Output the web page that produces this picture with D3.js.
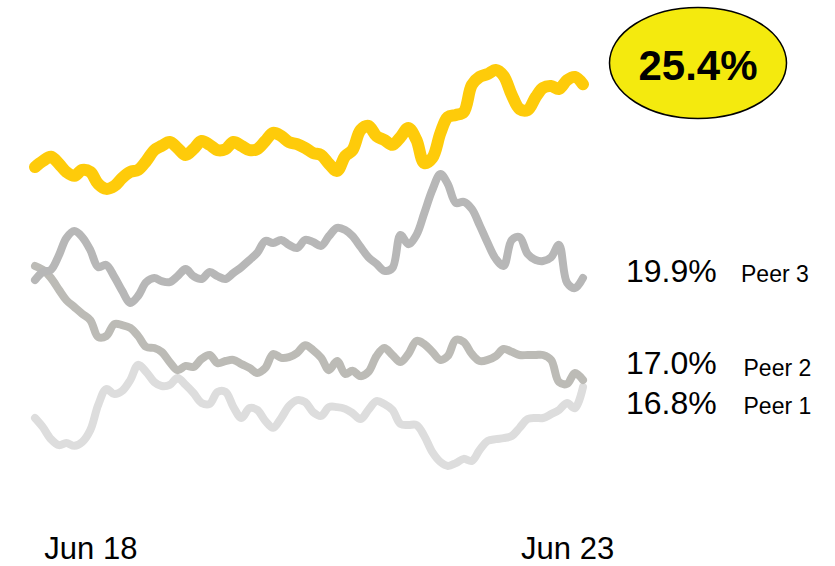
<!DOCTYPE html>
<html>
<head>
<meta charset="utf-8">
<script src="https://cdn.jsdelivr.net/npm/d3@7"></script>
<style>
  html, body { margin: 0; padding: 0; background: #fff; }
  svg { display: block; font-family: "Liberation Sans", Arial, sans-serif; }
</style>
</head>
<body>
<svg id="chart" width="835" height="566"></svg>
<script>
// Monthly observations, Nov 2017 – Aug 2023
const startMonth = new Date(2017, 10, 1);
const company = [23.05,23.22,23.34,23.14,22.91,22.80,22.97,22.91,22.57,22.43,22.51,22.74,22.91,22.97,23.22,23.53,23.65,23.76,23.59,23.39,23.56,23.79,23.68,23.53,23.56,23.76,23.65,23.53,23.56,23.79,24.02,23.93,23.76,23.70,23.59,23.45,23.39,23.14,22.94,23.36,23.53,24.10,24.22,23.93,23.82,23.68,23.90,24.16,23.82,23.16,23.31,24.02,24.47,24.53,24.61,25.38,25.61,25.69,25.81,25.64,25.10,24.70,24.67,25.04,25.30,25.35,25.27,25.52,25.61,25.40];
const peer3 = [19.84,20.07,20.13,20.55,21.03,21.23,21.06,20.69,20.21,20.27,19.93,19.53,19.19,19.39,19.78,19.90,19.81,19.78,19.95,20.15,19.95,19.87,20.07,19.95,19.87,20.04,20.21,20.41,20.61,20.95,20.89,20.98,20.84,20.75,20.98,20.92,20.81,21.09,21.32,21.26,21.09,20.78,20.49,20.30,20.10,20.18,21.12,20.86,21.12,21.74,22.40,22.85,22.57,22.03,22.06,21.86,21.40,20.89,20.44,20.24,20.98,21.06,20.58,20.41,20.38,20.49,20.84,19.76,19.61,19.90];
const peer2 = [20.24,20.13,19.90,19.56,19.27,19.07,18.88,18.70,18.22,18.25,18.59,18.56,18.48,18.25,17.94,17.91,17.80,17.51,17.28,17.40,17.37,17.60,17.71,17.48,17.54,17.57,17.45,17.34,17.20,17.34,17.74,17.63,17.65,17.77,17.99,17.85,17.63,17.28,17.54,17.17,17.26,17.11,17.23,17.68,17.91,17.71,17.51,17.74,18.11,18.02,17.80,17.57,17.68,18.14,18.08,17.74,17.54,17.57,17.68,17.88,17.80,17.71,17.71,17.71,17.71,17.57,16.94,16.89,17.20,17.00];
const peer1 = [15.92,15.66,15.32,15.15,15.21,15.13,15.24,15.58,16.29,16.74,16.60,16.69,17.00,17.43,17.23,16.94,16.83,16.86,17.06,16.86,16.63,16.35,16.32,16.66,16.66,16.23,15.92,16.20,16.15,15.84,15.64,15.92,16.26,16.43,16.37,16.09,15.98,16.23,16.23,16.18,16.06,15.89,16.15,16.40,16.32,16.15,15.75,15.72,15.72,15.41,14.95,14.67,14.56,14.64,14.76,14.70,15.01,15.27,15.32,15.35,15.41,15.64,15.89,15.92,15.92,16.03,16.15,16.35,16.20,16.80];

const tickDates = [new Date(2018, 5, 1), new Date(2023, 5, 1)];
const peerNames = ["Peer 3", "Peer 2", "Peer 1"];
const peerLabels = ["19.9%", "17.0%", "16.8%"];
const companyLabel = "25.4%";

const dates = company.map((_, i) => d3.timeMonth.offset(startMonth, i));

const svg = d3.select("#chart");

const x = d3.scaleTime()
  .domain([dates[0], dates[dates.length - 1]])
  .range([35, 583]);
const y = d3.scaleLinear()
  .domain([16, 26])
  .range([415.2, 63.2]);

const line = d3.line()
  .x((d, i) => x(dates[i]))
  .y(d => y(d))
  .curve(d3.curveCatmullRom.alpha(0.5));

const series = [
  { values: peer1, color: "#dddddd", width: 8 },
  { values: peer2, color: "#bcbbb6", width: 8 },
  { values: peer3, color: "#b7b7b7", width: 8 },
  { values: company, color: "#fecb0a", width: 12 }
];

svg.selectAll("path.series")
  .data(series)
  .join("path")
  .attr("class", "series")
  .attr("d", d => line(d.values))
  .attr("fill", "none")
  .attr("stroke", d => d.color)
  .attr("stroke-width", d => d.width)
  .attr("stroke-linecap", "round")
  .attr("stroke-linejoin", "round");

// X axis labels
const xAxis = d3.axisBottom(x)
  .tickValues(tickDates)
  .tickFormat(d3.timeFormat("%b %y"))
  .tickSize(0)
  .tickPadding(0);
const gx = svg.append("g")
  .attr("transform", "translate(0,559)")
  .call(xAxis);
gx.select(".domain").remove();
gx.selectAll("text")
  .attr("dy", 0)
  .attr("y", 0)
  .attr("font-family", "Liberation Sans, Arial, sans-serif")
  .attr("font-size", 31)
  .attr("fill", "#000");

// Peer labels
const peerY = [282, 374, 414];
const peerNameY = [281.5, 376, 414];
svg.selectAll("text.pval")
  .data(peerLabels)
  .join("text")
  .attr("class", "pval")
  .attr("x", 626)
  .attr("y", (d, i) => peerY[i])
  .attr("font-size", 32)
  .attr("fill", "#000")
  .text(d => d);
svg.selectAll("text.pname")
  .data(peerNames)
  .join("text")
  .attr("class", "pname")
  .attr("x", (d, i) => i === 0 ? 741 : 743.5)
  .attr("y", (d, i) => peerNameY[i])
  .attr("font-size", 23)
  .attr("fill", "#000")
  .text(d => d);

// Company bubble
svg.append("ellipse")
  .attr("cx", 698)
  .attr("cy", 63)
  .attr("rx", 88.5)
  .attr("ry", 55.5)
  .attr("fill", "#f4ea0e")
  .attr("stroke", "#000")
  .attr("stroke-width", 1.5);
svg.append("text")
  .attr("x", 698)
  .attr("y", 80)
  .attr("text-anchor", "middle")
  .attr("font-size", 42)
  .attr("font-weight", "bold")
  .attr("fill", "#000")
  .text(companyLabel);
</script>
</body>
</html>
